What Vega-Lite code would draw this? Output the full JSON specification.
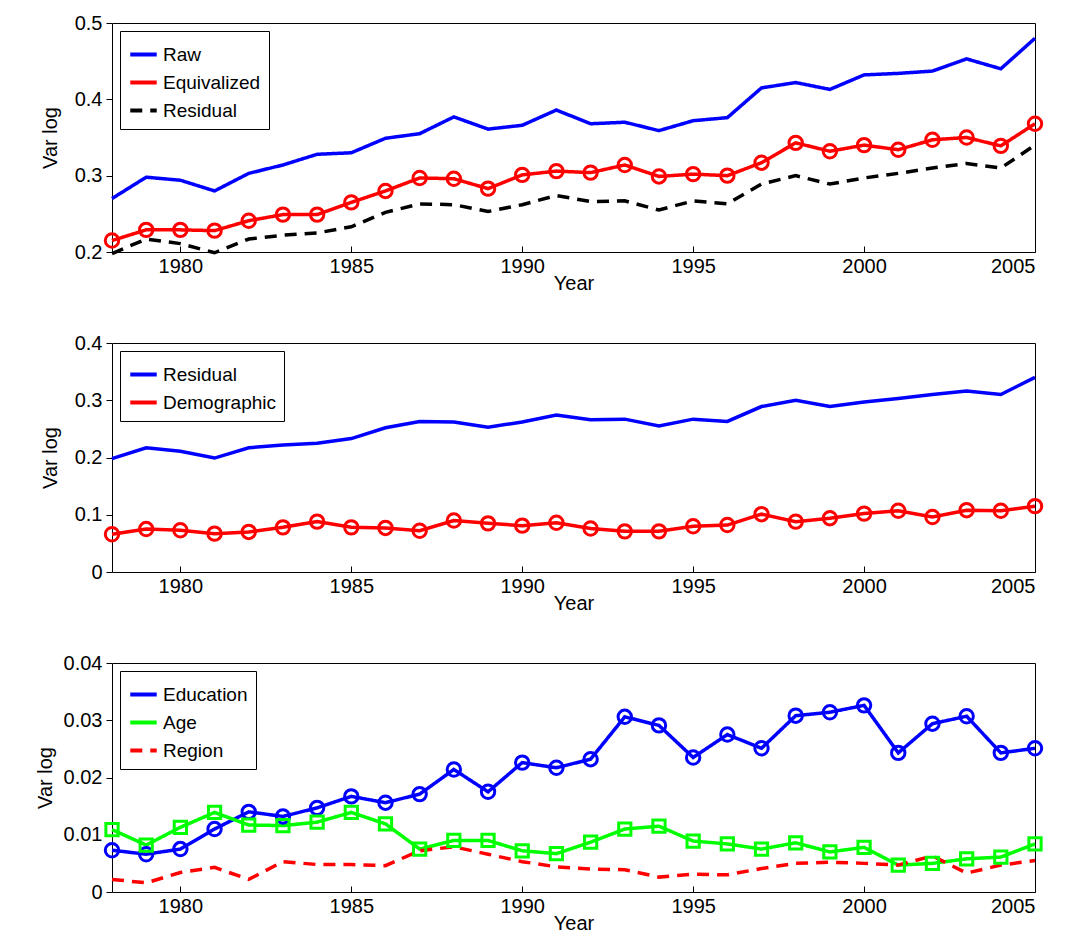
{
  "$schema": "https://vega.github.io/schema/vega-lite/v6.json",
  "padding": {"top": 12, "left": 34, "right": 8, "bottom": 0},
  "spacing": 38,
  "resolve": {"scale": {"color": "independent", "strokeDash": "independent"}, "legend": {"color": "independent", "strokeDash": "independent"}},
  "datasets": {
    "p1": [
      {"year":1978,"Raw":0.270,"Equivalized":0.215,"Residual":0.198},
      {"year":1979,"Raw":0.298,"Equivalized":0.229,"Residual":0.217},
      {"year":1980,"Raw":0.294,"Equivalized":0.229,"Residual":0.211},
      {"year":1981,"Raw":0.280,"Equivalized":0.228,"Residual":0.199},
      {"year":1982,"Raw":0.303,"Equivalized":0.241,"Residual":0.217},
      {"year":1983,"Raw":0.314,"Equivalized":0.249,"Residual":0.222},
      {"year":1984,"Raw":0.328,"Equivalized":0.249,"Residual":0.225},
      {"year":1985,"Raw":0.330,"Equivalized":0.265,"Residual":0.233},
      {"year":1986,"Raw":0.349,"Equivalized":0.280,"Residual":0.252},
      {"year":1987,"Raw":0.355,"Equivalized":0.297,"Residual":0.263},
      {"year":1988,"Raw":0.377,"Equivalized":0.296,"Residual":0.262},
      {"year":1989,"Raw":0.361,"Equivalized":0.283,"Residual":0.253},
      {"year":1990,"Raw":0.366,"Equivalized":0.301,"Residual":0.262},
      {"year":1991,"Raw":0.386,"Equivalized":0.306,"Residual":0.274},
      {"year":1992,"Raw":0.368,"Equivalized":0.304,"Residual":0.266},
      {"year":1993,"Raw":0.370,"Equivalized":0.314,"Residual":0.267},
      {"year":1994,"Raw":0.359,"Equivalized":0.299,"Residual":0.255},
      {"year":1995,"Raw":0.372,"Equivalized":0.302,"Residual":0.267},
      {"year":1996,"Raw":0.376,"Equivalized":0.300,"Residual":0.263},
      {"year":1997,"Raw":0.415,"Equivalized":0.317,"Residual":0.289},
      {"year":1998,"Raw":0.422,"Equivalized":0.343,"Residual":0.300},
      {"year":1999,"Raw":0.413,"Equivalized":0.332,"Residual":0.289},
      {"year":2000,"Raw":0.432,"Equivalized":0.340,"Residual":0.297},
      {"year":2001,"Raw":0.434,"Equivalized":0.334,"Residual":0.303},
      {"year":2002,"Raw":0.437,"Equivalized":0.347,"Residual":0.310},
      {"year":2003,"Raw":0.453,"Equivalized":0.350,"Residual":0.316},
      {"year":2004,"Raw":0.440,"Equivalized":0.339,"Residual":0.310},
      {"year":2005,"Raw":0.480,"Equivalized":0.368,"Residual":0.340}
    ],
    "p2": [
      {"year":1978,"Residual":0.198,"Demographic":0.066},
      {"year":1979,"Residual":0.217,"Demographic":0.075},
      {"year":1980,"Residual":0.211,"Demographic":0.073},
      {"year":1981,"Residual":0.199,"Demographic":0.067},
      {"year":1982,"Residual":0.217,"Demographic":0.070},
      {"year":1983,"Residual":0.222,"Demographic":0.078},
      {"year":1984,"Residual":0.225,"Demographic":0.088},
      {"year":1985,"Residual":0.233,"Demographic":0.078},
      {"year":1986,"Residual":0.252,"Demographic":0.077},
      {"year":1987,"Residual":0.263,"Demographic":0.072},
      {"year":1988,"Residual":0.262,"Demographic":0.090},
      {"year":1989,"Residual":0.253,"Demographic":0.085},
      {"year":1990,"Residual":0.262,"Demographic":0.081},
      {"year":1991,"Residual":0.274,"Demographic":0.086},
      {"year":1992,"Residual":0.266,"Demographic":0.076},
      {"year":1993,"Residual":0.267,"Demographic":0.071},
      {"year":1994,"Residual":0.255,"Demographic":0.071},
      {"year":1995,"Residual":0.267,"Demographic":0.080},
      {"year":1996,"Residual":0.263,"Demographic":0.082},
      {"year":1997,"Residual":0.289,"Demographic":0.101},
      {"year":1998,"Residual":0.300,"Demographic":0.088},
      {"year":1999,"Residual":0.289,"Demographic":0.094},
      {"year":2000,"Residual":0.297,"Demographic":0.102},
      {"year":2001,"Residual":0.303,"Demographic":0.107},
      {"year":2002,"Residual":0.310,"Demographic":0.096},
      {"year":2003,"Residual":0.316,"Demographic":0.108},
      {"year":2004,"Residual":0.310,"Demographic":0.107},
      {"year":2005,"Residual":0.340,"Demographic":0.115}
    ],
    "p3": [
      {"year":1978,"Education":0.0073,"Age":0.0109,"Region":0.0022},
      {"year":1979,"Education":0.0066,"Age":0.0082,"Region":0.0016},
      {"year":1980,"Education":0.0075,"Age":0.0113,"Region":0.0034},
      {"year":1981,"Education":0.0110,"Age":0.0139,"Region":0.0043},
      {"year":1982,"Education":0.0140,"Age":0.0117,"Region":0.0022},
      {"year":1983,"Education":0.0132,"Age":0.0116,"Region":0.0053},
      {"year":1984,"Education":0.0147,"Age":0.0122,"Region":0.0048},
      {"year":1985,"Education":0.0167,"Age":0.0139,"Region":0.0048},
      {"year":1986,"Education":0.0156,"Age":0.0119,"Region":0.0046},
      {"year":1987,"Education":0.0171,"Age":0.0075,"Region":0.0072},
      {"year":1988,"Education":0.0214,"Age":0.0090,"Region":0.0079},
      {"year":1989,"Education":0.0175,"Age":0.0090,"Region":0.0066},
      {"year":1990,"Education":0.0226,"Age":0.0072,"Region":0.0053},
      {"year":1991,"Education":0.0217,"Age":0.0067,"Region":0.0044},
      {"year":1992,"Education":0.0232,"Age":0.0087,"Region":0.0040},
      {"year":1993,"Education":0.0306,"Age":0.0110,"Region":0.0039},
      {"year":1994,"Education":0.0291,"Age":0.0115,"Region":0.0026},
      {"year":1995,"Education":0.0235,"Age":0.0089,"Region":0.0031},
      {"year":1996,"Education":0.0275,"Age":0.0084,"Region":0.0030},
      {"year":1997,"Education":0.0251,"Age":0.0075,"Region":0.0041},
      {"year":1998,"Education":0.0308,"Age":0.0086,"Region":0.0050},
      {"year":1999,"Education":0.0314,"Age":0.0070,"Region":0.0052},
      {"year":2000,"Education":0.0326,"Age":0.0078,"Region":0.0050},
      {"year":2001,"Education":0.0243,"Age":0.0047,"Region":0.0047},
      {"year":2002,"Education":0.0294,"Age":0.0050,"Region":0.0063},
      {"year":2003,"Education":0.0307,"Age":0.0058,"Region":0.0033},
      {"year":2004,"Education":0.0243,"Age":0.0061,"Region":0.0047},
      {"year":2005,"Education":0.0251,"Age":0.0084,"Region":0.0055}
    ]
  },
  "config": {
    "font": "Liberation Sans",
    "view": {"stroke": "black", "strokeWidth": 1},
    "axis": {"grid": false, "domain": false, "tickDirection": "in", "ticks": true, "tickColor": "black", "tickSize": 6, "labelFontSize": 20, "labelColor": "black", "titleFontSize": 20, "titleFontWeight": "normal", "titleColor": "black", "labelPadding": 4},
    "axisX": {"offset": -6},
    "point": {"opacity": 1},
    "legend": {"orient": "top-left", "strokeColor": "black", "fillColor": "white", "padding": 8, "offset": 8, "labelFontSize": 19, "labelColor": "black", "symbolSize": 700, "symbolStrokeWidth": 4, "rowPadding": 2, "title": null, "labelLimit": 300}
  },
  "vconcat": [
    {
      "width": 923, "height": 229,
      "data": {"name": "p1"},
      "transform": [{"fold": ["Raw", "Equivalized", "Residual"], "as": ["series", "value"]}],
      "encoding": {
        "x": {"field": "year", "type": "quantitative", "scale": {"domain": [1978, 2005], "nice": false}, "axis": {"values": [1980,1985,1990,1995,2000,2005], "format": "d", "title": "Year", "titlePadding": -3}},
        "y": {"field": "value", "type": "quantitative", "scale": {"domain": [0.2, 0.5], "nice": false}, "axis": {"values": [0.2,0.3,0.4,0.5], "format": ".1f", "title": "Var log", "titlePadding": 14}}
      },
      "layer": [
        {
          "mark": {"type": "line", "strokeWidth": 3.5},
          "encoding": {
            "color": {"field": "series", "type": "nominal", "sort": ["Raw","Equivalized","Residual"], "scale": {"domain": ["Raw","Equivalized","Residual"], "range": ["#0000ff","#ff0000","#000000"]}},
            "strokeDash": {"field": "series", "type": "nominal", "sort": ["Raw","Equivalized","Residual"], "scale": {"domain": ["Raw","Equivalized","Residual"], "range": [[1,0],[1,0],[12,8]]}}
          }
        },
        {
          "transform": [{"filter": "datum.series == 'Equivalized'"}],
          "mark": {"type": "point", "shape": "circle", "filled": false, "size": 180, "strokeWidth": 3, "color": "#ff0000"},
          "encoding": {}
        }
      ]
    },
    {
      "width": 923, "height": 229,
      "data": {"name": "p2"},
      "transform": [{"fold": ["Residual", "Demographic"], "as": ["series", "value"]}],
      "encoding": {
        "x": {"field": "year", "type": "quantitative", "scale": {"domain": [1978, 2005], "nice": false}, "axis": {"values": [1980,1985,1990,1995,2000,2005], "format": "d", "title": "Year", "titlePadding": -3}},
        "y": {"field": "value", "type": "quantitative", "scale": {"domain": [0, 0.4], "nice": false}, "axis": {"values": [0,0.1,0.2,0.3,0.4], "format": "~g", "title": "Var log", "titlePadding": 14}}
      },
      "layer": [
        {
          "mark": {"type": "line", "strokeWidth": 3.5},
          "encoding": {
            "color": {"field": "series", "type": "nominal", "sort": ["Residual","Demographic"], "scale": {"domain": ["Residual","Demographic"], "range": ["#0000ff","#ff0000"]}}
          }
        },
        {
          "transform": [{"filter": "datum.series == 'Demographic'"}],
          "mark": {"type": "point", "shape": "circle", "filled": false, "size": 180, "strokeWidth": 3, "color": "#ff0000"},
          "encoding": {}
        }
      ]
    },
    {
      "width": 923, "height": 229,
      "data": {"name": "p3"},
      "transform": [{"fold": ["Education", "Age", "Region"], "as": ["series", "value"]}],
      "encoding": {
        "x": {"field": "year", "type": "quantitative", "scale": {"domain": [1978, 2005], "nice": false}, "axis": {"values": [1980,1985,1990,1995,2000,2005], "format": "d", "title": "Year", "titlePadding": -3}},
        "y": {"field": "value", "type": "quantitative", "scale": {"domain": [0, 0.04], "nice": false}, "axis": {"values": [0,0.01,0.02,0.03,0.04], "format": "~g", "title": "Var log", "titlePadding": 8}}
      },
      "layer": [
        {
          "mark": {"type": "line", "strokeWidth": 3.5},
          "encoding": {
            "color": {"field": "series", "type": "nominal", "sort": ["Education","Age","Region"], "scale": {"domain": ["Education","Age","Region"], "range": ["#0000ff","#00ff00","#ff0000"]}},
            "strokeDash": {"field": "series", "type": "nominal", "sort": ["Education","Age","Region"], "scale": {"domain": ["Education","Age","Region"], "range": [[1,0],[1,0],[12,8]]}}
          }
        },
        {
          "transform": [{"filter": "datum.series == 'Education'"}],
          "mark": {"type": "point", "shape": "circle", "filled": false, "size": 180, "strokeWidth": 3, "color": "#0000ff"},
          "encoding": {}
        },
        {
          "transform": [{"filter": "datum.series == 'Age'"}],
          "mark": {"type": "point", "shape": "square", "filled": false, "size": 150, "strokeWidth": 3, "color": "#00ff00"},
          "encoding": {}
        }
      ]
    }
  ]
}
